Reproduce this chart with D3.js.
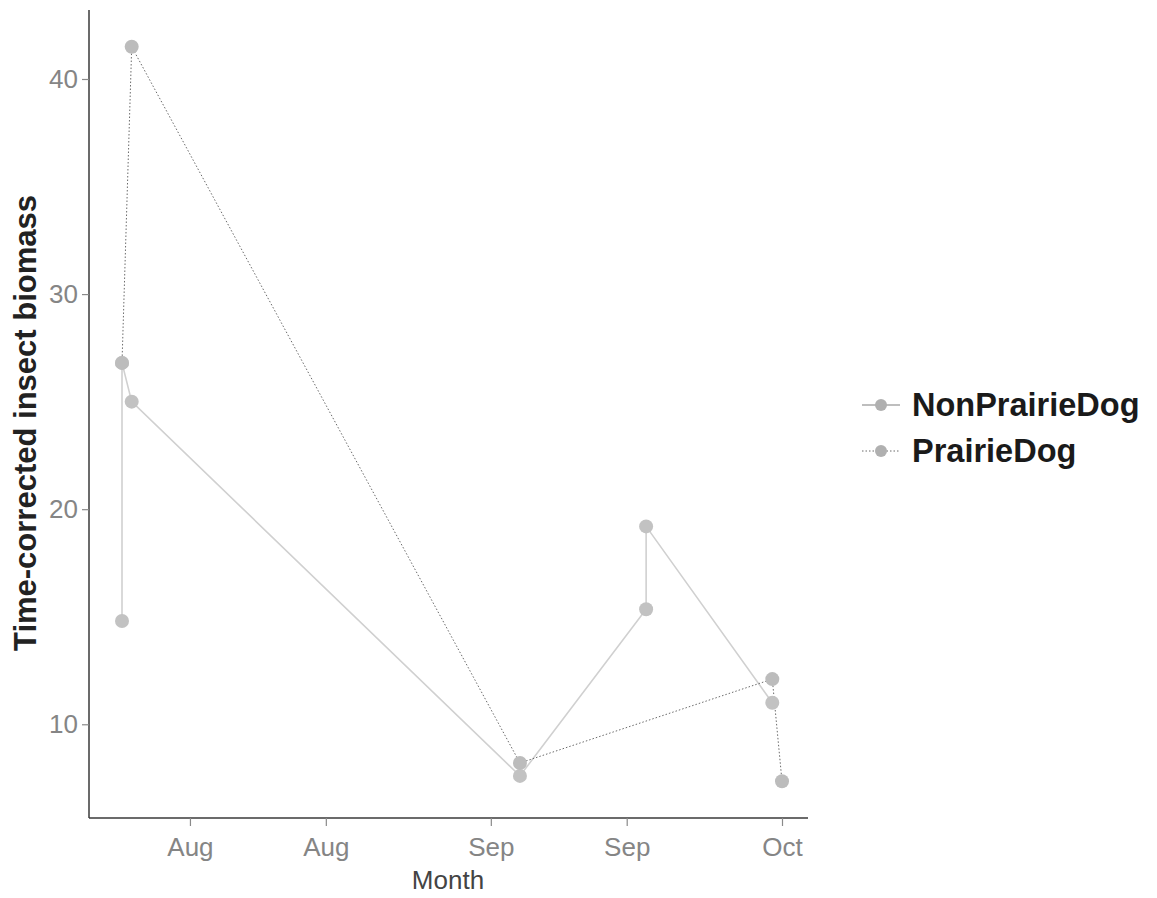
<!DOCTYPE html>
<html>
<head>
<meta charset="utf-8">
<script src="https://cdn.jsdelivr.net/npm/d3@7"></script>
<style>
  html, body { margin: 0; padding: 0; background: #fff; }
  svg { display: block; font-family: "Liberation Sans", Arial, sans-serif; }
</style>
</head>
<body>
<svg id="chart" width="1157" height="898"></svg>
<script>
// Sampling dates and biomass per treatment
const nonPrairieDates  = ["2019-07-25", "2019-07-25", "2019-07-26", "2019-09-04", "2019-09-17", "2019-09-17", "2019-09-30"];
const nonPrairieValues = [14.8, 26.8, 25.0, 7.6, 15.35, 19.2, 11.0];

const prairieDates  = ["2019-07-25", "2019-07-26", "2019-09-04", "2019-09-30", "2019-10-01"];
const prairieValues = [26.8, 41.5, 8.2, 12.1, 7.35];

const seriesNames = ["NonPrairieDog", "PrairieDog"];

const xTickDates = ["2019-08-01", "2019-08-15", "2019-09-01", "2019-09-15", "2019-10-01"];
const yTickValues = [10, 20, 30, 40];

const parse = d3.utcParse("%Y-%m-%d");

const series = [
  { name: seriesNames[0], pts: nonPrairieDates.map((d, i) => ({ date: parse(d), value: nonPrairieValues[i] })) },
  { name: seriesNames[1], pts: prairieDates.map((d, i) => ({ date: parse(d), value: prairieValues[i] })) }
];

const style = {
  NonPrairieDog: { line: "#d0d0d0", key: "#a8a8a8", width: 1.6, dash: null, point: "#c2c2c2" },
  PrairieDog:    { line: "#6a6a6a", key: "#6a6a6a", width: 1.0, dash: "1.5,2", point: "#bcbcbc" }
};

const plot = { left: 89, right: 815, top: 10, bottom: 818 };

const all = series.flatMap(s => s.pts);
const [x0, x1] = d3.extent(all, d => +d.date);
const xPad = (x1 - x0) * 0.05;
const x = d3.scaleUtc().domain([new Date(x0 - xPad), new Date(x1 + xPad)]).range([plot.left, plot.right]);

const [y0, y1] = d3.extent(all, d => d.value);
const yPad = (y1 - y0) * 0.05;
const y = d3.scaleLinear().domain([y0 - yPad, y1 + yPad]).range([plot.bottom, plot.top]);

const svg = d3.select("#chart");

// Lines
const line = d3.line().x(d => x(d.date)).y(d => y(d.value));
series.forEach(s => {
  const st = style[s.name];
  svg.append("path")
    .datum(s.pts)
    .attr("fill", "none")
    .attr("stroke", st.line)
    .attr("stroke-width", st.width)
    .attr("stroke-dasharray", st.dash)
    .attr("d", line);
});

// Points
series.forEach(s => {
  const st = style[s.name];
  svg.append("g").selectAll("circle")
    .data(s.pts)
    .join("circle")
    .attr("cx", d => x(d.date))
    .attr("cy", d => y(d.value))
    .attr("r", 7)
    .attr("fill", st.point);
});

// Axes
const xAxis = d3.axisBottom(x)
  .tickValues(xTickDates.map(parse))
  .tickFormat(d3.utcFormat("%b"))
  .tickSize(8)
  .tickPadding(12);

const yAxis = d3.axisLeft(y)
  .tickValues(yTickValues)
  .tickSize(7)
  .tickPadding(4);

const gx = svg.append("g").attr("transform", `translate(0,${plot.bottom})`).call(xAxis);
const gy = svg.append("g").attr("transform", `translate(${plot.left},0)`).call(yAxis);

[gx, gy].forEach(g => {
  g.select(".domain").attr("stroke", "#3a3a3a").attr("stroke-width", 1.5);
  g.selectAll(".tick line").attr("stroke", "#8a8a8a").attr("stroke-width", 1.2);
  g.selectAll(".tick text")
    .attr("fill", "#858585")
    .attr("font-size", 26)
    .attr("font-family", "'Liberation Sans', Arial, sans-serif");
});
gy.select(".domain").attr("d", `M0,${plot.bottom}V${plot.top}`);
gx.select(".domain").attr("d", `M${plot.left},0H808`);

// Axis titles
svg.append("text")
  .attr("x", 448).attr("y", 889)
  .attr("text-anchor", "middle")
  .attr("font-size", 26)
  .attr("fill", "#444")
  .text("Month");

svg.append("text")
  .attr("transform", "translate(36,423) rotate(-90)")
  .attr("text-anchor", "middle")
  .attr("font-size", 31)
  .attr("font-weight", "bold")
  .attr("fill", "#222")
  .text("Time-corrected insect biomass");

// Legend
const legend = svg.append("g").attr("transform", "translate(862,0)");
const legendY = [405, 451];
seriesNames.forEach((name, i) => {
  const st = style[name];
  const g = legend.append("g").attr("transform", `translate(0,${legendY[i]})`);
  g.append("line")
    .attr("x1", 0).attr("x2", 38).attr("y1", 0).attr("y2", 0)
    .attr("stroke", st.key)
    .attr("stroke-width", st.width)
    .attr("stroke-dasharray", st.dash);
  g.append("circle").attr("cx", 19).attr("cy", 0).attr("r", 6).attr("fill", "#b0b0b0");
  g.append("text")
    .attr("x", 50).attr("y", 11)
    .attr("font-size", 32.5)
    .attr("font-weight", "bold")
    .attr("fill", "#1a1a1a")
    .text(name);
});
</script>
</body>
</html>
